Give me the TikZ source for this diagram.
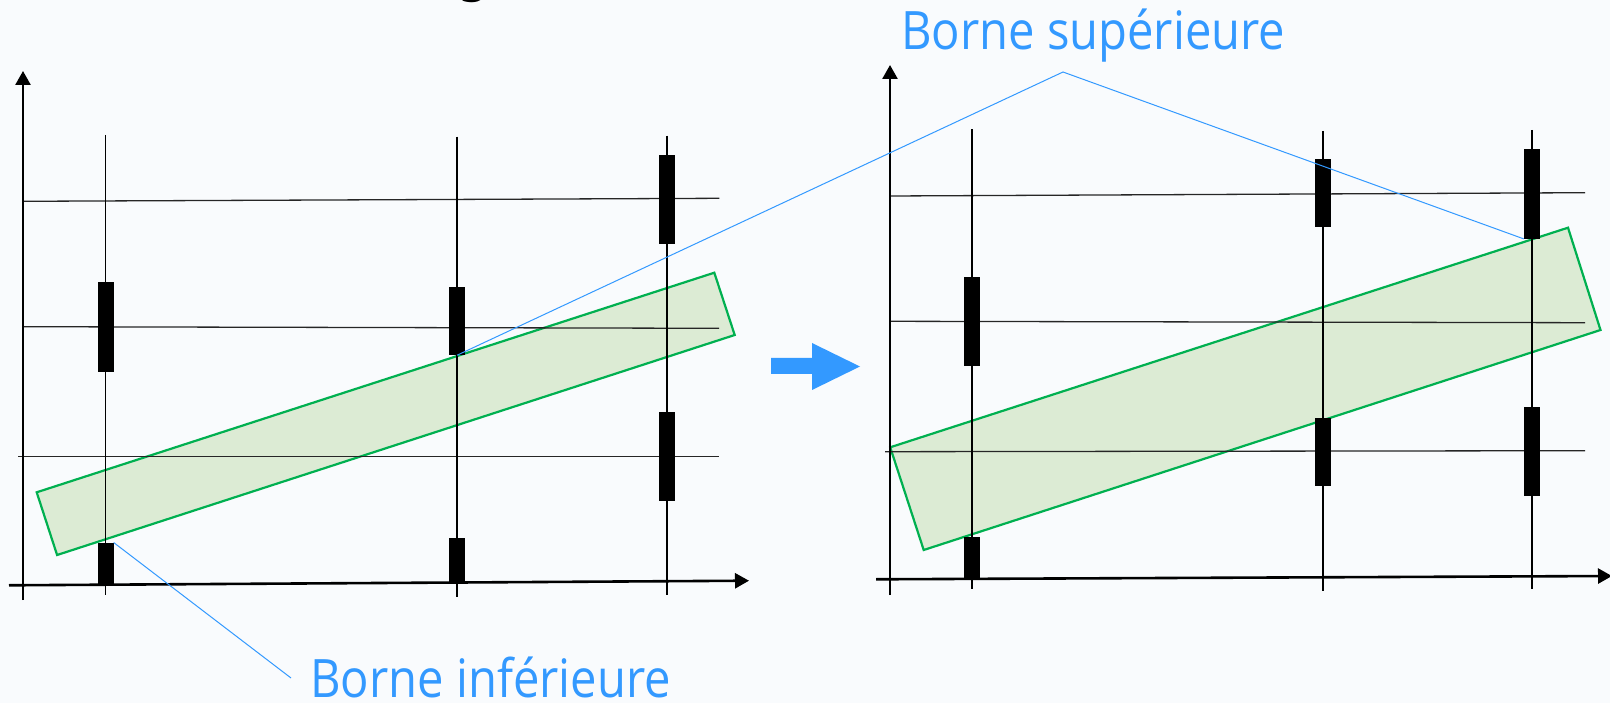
\documentclass[tikz,border=0pt]{standalone}
\usepackage{fontspec}
\usepackage{tikz}
\usetikzlibrary{arrows.meta,positioning,calc}
\newfontfamily\lblfont[FakeStretch=0.89]{Open Sans}
\newfontfamily\ttlfont{DejaVu Sans}
\definecolor{cBlue}{RGB}{51,153,255}
\definecolor{cGreen}{RGB}{0,176,80}
\definecolor{cBandBg}{RGB}{220,235,212}
\definecolor{cPage}{RGB}{249,251,253}
\tikzset{
	chartaxis/.style={-{Triangle[length=14pt,width=15pt]},line width=2.6pt,draw=black},
	gline/.style={line width=1.3pt,draw=black!85},
	wick/.style={line width=1.2pt,draw=black},
	candle/.style={fill=black,inner sep=0pt,minimum width=16pt},
	band/.style={draw=cGreen,line width=2.2pt,fill=cBandBg,line join=miter},
	lead/.style={draw=cBlue,line width=1pt},
	lbl/.style={text=cBlue,inner sep=0pt,anchor=base west,
		font=\lblfont\fontsize{53}{60}\selectfont},
}

\begin{document}
\begin{tikzpicture}[x=1pt,y=-1pt]
	\fill[cPage] (0,0) rectangle (1610,703);
	\useasboundingbox (0,0) rectangle (1610,703);
	\node[anchor=base,inner sep=0pt,font=\ttlfont\fontsize{54}{64}\selectfont] (ttl) at (474,-8) {g};

	% left chart
	\filldraw[band] (36.7,492.3) -- (714.3,272.7) -- (734.7,335) -- (57.1,555) -- cycle;
	\draw[gline] (23,201.3) -- (719.4,198.3);
	\draw[gline] (23,326.7) -- (719,328.3);
	\draw[gline] (18,456.7) -- (719,456.7);
	\draw[wick] (105.5,135) -- (105.5,595);
	\draw[wick] (457,136.7) -- (457,596.7);
	\draw[wick] (667,135.7) -- (667,595);
	\node[candle,minimum height=89.4pt] (l1a) at (105.5,327) {};
	\node[candle,minimum height=41.3pt] (l1b) at (105.5,563.4) {};
	\node[candle,minimum height=67.7pt] (l2a) at (457,321.2) {};
	\node[candle,minimum height=44.7pt] (l2b) at (457,560.7) {};
	\node[candle,minimum height=89.3pt] (l3a) at (667,199.7) {};
	\node[candle,minimum height=89.3pt] (l3b) at (667,456.4) {};
	\draw[chartaxis] (23,600) -- (23,71);
	\draw[chartaxis] (9,585.3) -- (749,580.7);

	% right chart
	\filldraw[band] (890.2,447.3) -- (1568,227.7) -- (1600.5,330) -- (923.7,550) -- cycle;
	\draw[gline] (890,196) -- (1585,192.7);
	\draw[gline] (890,321.3) -- (1585,322.7);
	\draw[gline] (885,451.7) -- (1585,450.7);
	\draw[wick] (972,129.3) -- (972,589.3);
	\draw[wick] (1323,131) -- (1323,590.7);
	\draw[wick] (1532,130) -- (1532,589.3);
	\node[candle,minimum height=89.3pt] (r1a) at (972,321.4) {};
	\node[candle,minimum height=40.7pt] (r1b) at (972,557.7) {};
	\node[candle,minimum height=68pt] (r2a) at (1323,192.7) {};
	\node[candle,minimum height=67.7pt] (r2b) at (1323,452.2) {};
	\node[candle,minimum height=89.4pt] (r3a) at (1532,194) {};
	\node[candle,minimum height=89pt] (r3b) at (1532,451.2) {};
	\draw[chartaxis] (890,595) -- (890,65);
	\draw[chartaxis] (876,579.3) -- (1612,576);

	\fill[cBlue] (771,358) -- (812,358) -- (812,343) -- (860,366.5) -- (812,390) -- (812,374) -- (771,374) -- cycle;

	\node[lbl] (supLbl) at (901,50) {Borne supérieure};
	\node[lbl] (infLbl) at (310,697) {Borne inférieure};
	\coordinate (supApex) at (1063,72);
	\coordinate (infEnd) at (291,678);
	\draw[lead] (l2a.south) -- (supApex) -- (r3a.south west);
	\draw[lead] (l1b.north east) -- (infEnd);
\end{tikzpicture}
\end{document}
